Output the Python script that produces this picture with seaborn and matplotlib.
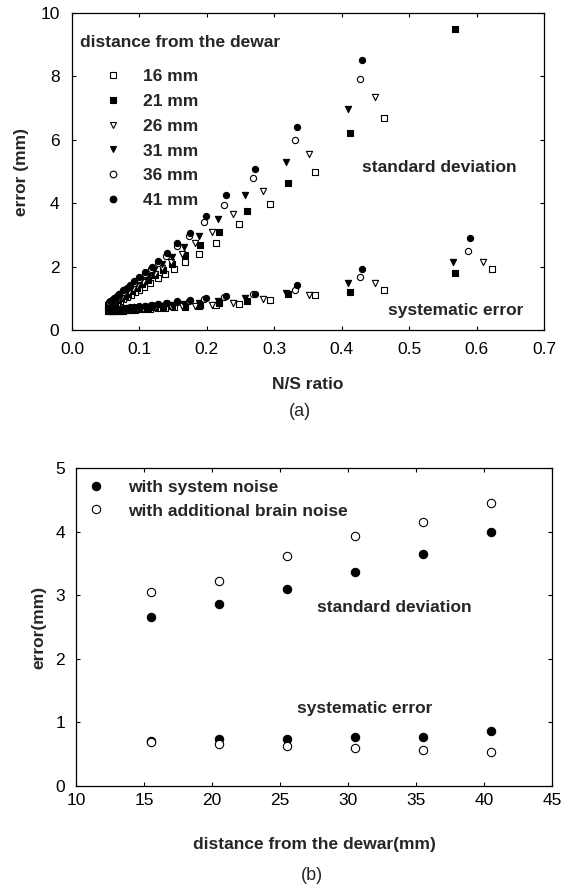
import matplotlib
matplotlib.use("Agg")
import matplotlib.pyplot as plt
from matplotlib.lines import Line2D
import numpy as np
import pandas as pd
import seaborn as sns

# ---------------- data: panel (a) ----------------
distances = ["16 mm", "21 mm", "26 mm", "31 mm", "36 mm", "41 mm"]
nan = float("nan")

ns_16 = [0.623, 0.462, 0.360, 0.293, 0.248, 0.214, 0.188, 0.167, 0.151, 0.138, 0.127,
         0.116, 0.107, 0.099, 0.093, 0.087, 0.081, 0.076, 0.071, 0.067, 0.063, 0.060]
std_16 = [nan, 6.68, 4.98, 3.96, 3.33, 2.75, 2.41, 2.14, 1.93, 1.77, 1.63,
          1.48, 1.37, 1.27, 1.19, 1.11, 1.04, 0.97, 0.91, 0.86, 0.81, 0.77]
sys_16 = [1.91, 1.26, 1.10, 0.95, 0.82, 0.78, 0.75, 0.73, 0.71, 0.69, 0.68,
          0.67, 0.66, 0.65, 0.64, 0.63, 0.62, 0.61, 0.61, 0.60, 0.60, 0.59]

ns_21 = [0.568, 0.412, 0.320, 0.259, 0.218, 0.190, 0.168, 0.149, 0.135, 0.123, 0.113,
         0.104, 0.096, 0.089, 0.083, 0.078, 0.073, 0.068, 0.064, 0.060, 0.057, 0.054]
std_21 = [9.50, 6.22, 4.65, 3.75, 3.09, 2.68, 2.36, 2.09, 1.89, 1.72, 1.58,
          1.45, 1.34, 1.24, 1.15, 1.08, 1.01, 0.94, 0.88, 0.83, 0.79, 0.75]
sys_21 = [1.79, 1.21, 1.14, 0.92, 0.84, 0.80, 0.77, 0.75, 0.73, 0.71, 0.69,
          0.68, 0.67, 0.66, 0.65, 0.64, 0.63, 0.62, 0.62, 0.61, 0.61, 0.60]

ns_26 = [0.610, 0.449, 0.351, 0.283, 0.239, 0.207, 0.183, 0.163, 0.147, 0.134, 0.123,
         0.113, 0.105, 0.097, 0.090, 0.085, 0.079, 0.074, 0.069, 0.065, 0.062, 0.058]
std_26 = [nan, 7.34, 5.54, 4.40, 3.67, 3.10, 2.73, 2.41, 2.16, 1.96, 1.78,
          1.63, 1.51, 1.39, 1.29, 1.21, 1.12, 1.05, 0.98, 0.92, 0.88, 0.82]
sys_26 = [2.14, 1.49, 1.10, 0.97, 0.85, 0.80, 0.77, 0.75, 0.73, 0.71, 0.69,
          0.68, 0.67, 0.66, 0.65, 0.64, 0.63, 0.62, 0.62, 0.61, 0.60, 0.60]

ns_31 = [0.565, 0.409, 0.317, 0.256, 0.216, 0.188, 0.166, 0.148, 0.134, 0.122, 0.112,
         0.103, 0.095, 0.088, 0.082, 0.077, 0.072, 0.067, 0.063, 0.059, 0.056, 0.053]
std_31 = [nan, 6.96, 5.31, 4.26, 3.50, 2.97, 2.61, 2.31, 2.08, 1.88, 1.71,
          1.57, 1.44, 1.34, 1.24, 1.16, 1.09, 1.00, 0.94, 0.88, 0.84, 0.79]
sys_31 = [2.14, 1.47, 1.16, 1.00, 0.90, 0.85, 0.81, 0.78, 0.75, 0.73, 0.71,
          0.69, 0.68, 0.67, 0.66, 0.65, 0.64, 0.63, 0.62, 0.62, 0.61, 0.60]

ns_36 = [0.587, 0.427, 0.331, 0.268, 0.226, 0.196, 0.173, 0.155, 0.140, 0.127, 0.117,
         0.108, 0.099, 0.092, 0.086, 0.080, 0.075, 0.070, 0.066, 0.062, 0.059, 0.055]
std_36 = [nan, 7.93, 5.98, 4.80, 3.94, 3.42, 2.98, 2.64, 2.35, 2.11, 1.93,
          1.77, 1.61, 1.49, 1.38, 1.28, 1.20, 1.12, 1.05, 0.98, 0.93, 0.87]
sys_36 = [2.50, 1.66, 1.26, 1.13, 1.03, 0.97, 0.92, 0.87, 0.84, 0.81, 0.78,
          0.76, 0.74, 0.72, 0.70, 0.69, 0.67, 0.66, 0.65, 0.64, 0.63, 0.62]

ns_41 = [0.590, 0.430, 0.333, 0.271, 0.228, 0.198, 0.175, 0.156, 0.141, 0.128, 0.118,
         0.108, 0.100, 0.092, 0.086, 0.081, 0.076, 0.070, 0.066, 0.062, 0.059, 0.056]
std_41 = [nan, 8.51, 6.41, 5.07, 4.26, 3.60, 3.05, 2.73, 2.44, 2.19, 2.00,
          1.83, 1.68, 1.54, 1.43, 1.34, 1.25, 1.14, 1.07, 1.00, 0.95, 0.90]
sys_41 = [2.89, 1.91, 1.42, 1.15, 1.07, 1.00, 0.95, 0.90, 0.86, 0.83, 0.80,
          0.77, 0.75, 0.73, 0.71, 0.70, 0.68, 0.67, 0.66, 0.65, 0.64, 0.63]

# ---------------- data: panel (b) ----------------
dist_b = [15.5, 20.5, 25.5, 30.5, 35.5, 40.5]
std_system = [2.66, 2.86, 3.09, 3.37, 3.65, 4.00]
std_brain = [3.05, 3.23, 3.62, 3.93, 4.15, 4.45]
sys_system = [0.70, 0.74, 0.74, 0.77, 0.77, 0.86]
sys_brain = [0.69, 0.66, 0.63, 0.60, 0.57, 0.53]
labels_b = ["with system noise", "with additional brain noise"]

# ---------------- build tables ----------------
series = {
    "16 mm": (ns_16, std_16, sys_16),
    "21 mm": (ns_21, std_21, sys_21),
    "26 mm": (ns_26, std_26, sys_26),
    "31 mm": (ns_31, std_31, sys_31),
    "36 mm": (ns_36, std_36, sys_36),
    "41 mm": (ns_41, std_41, sys_41),
}
rows = []
for d, (ns, sd, se) in series.items():
    for x, a, b in zip(ns, sd, se):
        rows.append({"distance": d, "ns": x, "kind": "std", "err": a})
        rows.append({"distance": d, "ns": x, "kind": "sys", "err": b})
df_a = pd.DataFrame(rows).dropna()

df_b = pd.DataFrame({
    "dist": dist_b * 4,
    "err": std_system + std_brain + sys_system + sys_brain,
    "noise": [labels_b[0]] * 6 + [labels_b[1]] * 6 + [labels_b[0]] * 6 + [labels_b[1]] * 6,
})

# ---------------- styling ----------------
sns.set_theme(style="ticks")
plt.rcParams["font.family"] = ["Liberation Sans", "DejaVu Sans"]
plt.rcParams["axes.linewidth"] = 0.9
plt.rcParams["xtick.direction"] = "in"
plt.rcParams["ytick.direction"] = "in"

style_a = {
    "16 mm": ("s", "white"),
    "21 mm": ("s", "black"),
    "26 mm": ("v", "white"),
    "31 mm": ("v", "black"),
    "36 mm": ("o", "white"),
    "41 mm": ("o", "black"),
}

W, H = 564, 886
fig = plt.figure(figsize=(W / 100, H / 100), dpi=100)
fig.patch.set_facecolor("white")

def px_axes(l, t, r, b):
    return fig.add_axes([l / W, 1 - b / H, (r - l) / W, (b - t) / H])

FS = 12.5

# ---- panel (a)
ax1 = px_axes(72, 13, 544, 330)
for d in distances:
    m, fc = style_a[d]
    sub = df_a[df_a["distance"] == d]
    sns.scatterplot(data=sub, x="ns", y="err", ax=ax1, marker=m, color=fc,
                    edgecolor="black", linewidth=0.8, s=20, legend=False, zorder=3)
ax1.set_xlim(0, 0.7)
ax1.set_ylim(0, 10)
ax1.set_xticks(np.arange(0, 0.71, 0.1))
ax1.set_xticklabels([f"{v:.1f}" for v in np.arange(0, 0.71, 0.1)])
ax1.set_yticks(range(0, 11, 2))
ax1.tick_params(top=True, right=True, length=3, width=0.8, labelsize=FS, pad=9, colors="black")
ax1.set_xlabel("N/S ratio", fontsize=FS, fontweight="bold", labelpad=14)
ax1.set_ylabel("error (mm)", fontsize=FS, fontweight="bold", labelpad=8)
ax1.text(0.017, 0.908, "distance from the dewar", transform=ax1.transAxes,
         fontsize=FS, fontweight="bold", ha="left", va="center")
ax1.text(0.614, 0.514, "standard deviation", transform=ax1.transAxes,
         fontsize=FS, fontweight="bold", ha="left", va="center")
ax1.text(0.669, 0.063, "systematic error", transform=ax1.transAxes,
         fontsize=FS, fontweight="bold", ha="left", va="center")
handles = [Line2D([], [], linestyle="none", marker=style_a[d][0], markerfacecolor=style_a[d][1],
                  markeredgecolor="black", markeredgewidth=0.8, markersize=4.8) for d in distances]
ax1.legend(handles, distances, loc="upper left", bbox_to_anchor=(0.05, 0.824),
           frameon=False, borderpad=0, borderaxespad=0, handlelength=2.0,
           handletextpad=0.72, labelspacing=0.56, prop={"size": FS, "weight": "bold"})

# ---- panel (b)
ax2 = px_axes(76, 468, 552, 786)
sns.scatterplot(data=df_b[df_b["noise"] == labels_b[0]], x="dist", y="err", ax=ax2,
                marker="o", color="black", edgecolor="black", linewidth=0.8, s=36,
                legend=False, zorder=3)
sns.scatterplot(data=df_b[df_b["noise"] == labels_b[1]], x="dist", y="err", ax=ax2,
                marker="o", color="white", edgecolor="black", linewidth=0.8, s=36,
                legend=False, zorder=3)
ax2.set_xlim(10, 45)
ax2.set_ylim(0, 5)
ax2.set_xticks(range(10, 46, 5))
ax2.set_yticks(range(0, 6))
ax2.tick_params(top=True, right=True, length=3, width=0.8, labelsize=FS, pad=5, colors="black")
ax2.tick_params(axis="y", pad=8)
ax2.set_xlabel("distance from the dewar(mm)", fontsize=FS, fontweight="bold", labelpad=21)
ax2.set_ylabel("error(mm)", fontsize=FS, fontweight="bold", labelpad=6)
ax2.text(0.506, 0.56, "standard deviation", transform=ax2.transAxes,
         fontsize=FS, fontweight="bold", ha="left", va="center")
ax2.text(0.464, 0.245, "systematic error", transform=ax2.transAxes,
         fontsize=FS, fontweight="bold", ha="left", va="center")
handles_b = [Line2D([], [], linestyle="none", marker="o", markerfacecolor=fc,
                    markeredgecolor="black", markeredgewidth=0.8, markersize=6)
             for fc in ["black", "white"]]
ax2.legend(handles_b, labels_b, loc="upper left", bbox_to_anchor=(0.005, 0.962),
           frameon=False, borderpad=0, borderaxespad=0, handlelength=2.0,
           handletextpad=0.84, labelspacing=0.47, prop={"size": FS, "weight": "bold"})

for ax in (ax1, ax2):
    for sp in ax.spines.values():
        sp.set_color("black")
        sp.set_visible(True)

fig.text(300 / W, 1 - 411 / H, "(a)", fontsize=FS + 0.5, ha="center", va="center")
fig.text(312 / W, 1 - 875 / H, "(b)", fontsize=FS + 0.5, ha="center", va="center")

fig.savefig("out.png", dpi=100, facecolor="white")
